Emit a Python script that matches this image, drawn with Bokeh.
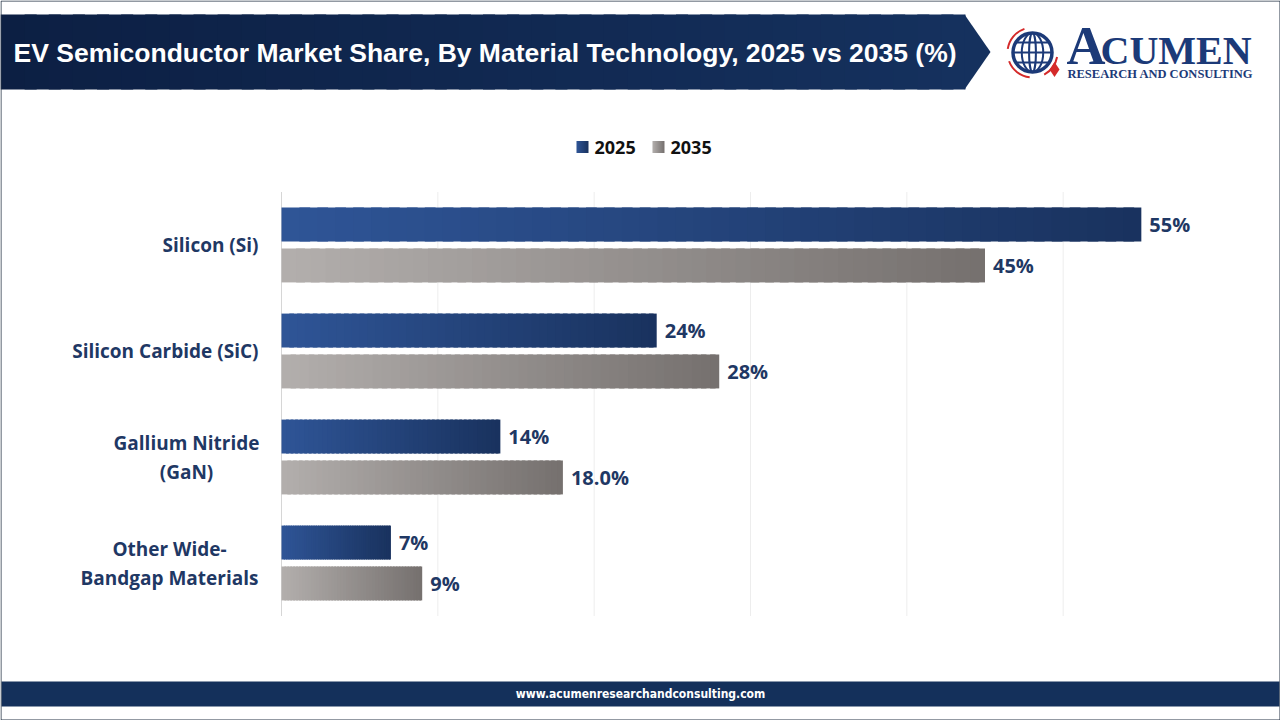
from bokeh.plotting import figure
from bokeh.models import Range1d, ColumnDataSource
from bokeh.core.properties import value
from bokeh.embed import file_html
from bokeh.resources import INLINE

# ---- data ----
categories = ["Silicon (Si)", "Silicon Carbide (SiC)", "Gallium Nitride\n(GaN)", "Other Wide-\nBandgap Materials"]
share_2025 = [55, 24, 14, 7]
share_2035 = [45, 28, 18.0, 9]
labels_2025 = ["55%", "24%", "14%", "7%"]
labels_2035 = ["45%", "28%", "18.0%", "9%"]
series_names = ["2025", "2035"]
grid_ticks = [10, 20, 30, 40, 50]

TITLE = "EV Semiconductor Market Share, By Material Technology, 2025 vs 2035 (%)"
FOOTER = "www.acumenresearchandconsulting.com"

# ---- layout (canvas pixels) ----
W, H = 1280, 720
PLOT_L, PLOT_R = 281, 1219
PLOT_T, BAND = 191.5, 106
X_MAX = 60
BAR_H = 0.32
BAR_OFF = 0.193
NAVY_TEXT = "#1f3864"

GRAD = {
    "2025": ("#2f5597", "#19325e"),
    "2035": ("#b3afad", "#75706e"),
}


def hex_to_rgb(h):
    h = h.lstrip("#")
    return tuple(int(h[i:i + 2], 16) for i in (0, 2, 4))


def lerp(c1, c2, t):
    a, b = hex_to_rgb(c1), hex_to_rgb(c2)
    return "#%02x%02x%02x" % tuple(round(a[i] + (b[i] - a[i]) * t) for i in range(3))


px_per_pct = (PLOT_R - PLOT_L) / X_MAX

p = figure(width=W, height=H, x_range=Range1d(0, W), y_range=Range1d(H, 0),
           output_backend="svg", toolbar_location=None, min_border=0,
           x_axis_location=None, y_axis_location=None)
p.grid.visible = False
p.outline_line_color = None
p.background_fill_color = "white"
p.border_fill_color = "white"

# chart scales: percent along x, category band index along y
p.extra_x_ranges = {"pct": Range1d(-PLOT_L / px_per_pct, (W - PLOT_L) / px_per_pct)}
p.extra_y_ranges = {"cat": Range1d((H - PLOT_T) / BAND, -PLOT_T / BAND)}

# ---- header banner ----
N_STRIPES = 40
BANNER_END, TIP = 965, 990
band_src = dict(left=[], right=[], color=[])
for k in range(N_STRIPES):
    band_src["left"].append(BANNER_END * k / N_STRIPES)
    band_src["right"].append(BANNER_END * min(k + 1.5, N_STRIPES) / N_STRIPES)
    band_src["color"].append(lerp("#0c1f43", "#15315e", (k + 0.5) / N_STRIPES))
p.quad(left="left", right="right", top=14, bottom=89, fill_color="color",
       line_color=None, source=ColumnDataSource(band_src))
p.patch([BANNER_END - 1, TIP, BANNER_END - 1], [14, 51.5, 89], fill_color="#15315e", line_color=None)
p.text(x=[13], y=[52], text=[TITLE], text_color="white", text_font=value("Liberation Sans"),
       text_font_style="bold", text_font_size="26.5px", text_baseline="middle", text_align="left")

# ---- logo ----
LOGO_NAVY = "#1c3a78"
LOGO_RED = "#d42a2a"
gx, gy, gr = 1032, 52, 19.5
p.arc(x=[gx] * 3, y=[gy] * 3, radius=[25, 25, 25],
      start_angle=[1.9, 3.5, 5.2], end_angle=[3.0, 4.6, 6.1],
      line_color=LOGO_RED, line_width=2)
p.ellipse(x=[gx], y=[gy], width=[2 * gr], height=[2 * gr], fill_color="white",
          line_color=LOGO_NAVY, line_width=3.5)
p.ellipse(x=[gx, gx], y=[gy, gy], width=[2 * gr * 0.55, 2 * gr * 0.15 + 1], height=[2 * gr, 2 * gr],
          fill_color=None, line_color=LOGO_NAVY, line_width=2)
p.segment(x0=[gx - gr + 3, gx - gr + 1, gx - gr + 3], x1=[gx + gr - 3, gx + gr - 1, gx + gr - 3],
          y0=[gy - 10, gy, gy + 10], y1=[gy - 10, gy, gy + 10], line_color=LOGO_NAVY, line_width=2)
p.scatter(x=[1054], y=[69], marker="diamond", size=15, fill_color=LOGO_RED, line_color=None)
p.text(x=[1066], y=[45], text=["A"], text_color=LOGO_NAVY, text_font=value("Liberation Serif"),
       text_font_style="bold", text_font_size="54px", text_baseline="middle")
p.text(x=[1100], y=[49.5], text=["CUMEN"], text_color=LOGO_NAVY, text_font=value("Liberation Serif"),
       text_font_style="bold", text_font_size="40px", text_baseline="middle")
p.text(x=[1067], y=[73], text=["RESEARCH AND CONSULTING"], text_color=LOGO_NAVY,
       text_font=value("Liberation Serif"), text_font_style="bold", text_font_size="12.5px",
       text_baseline="middle")

# ---- legend ----
LEG_Y, LEG_SQ = 146.5, 12
leg_x = [576, 652]
for name, x0 in zip(series_names, leg_x):
    c1, c2 = GRAD[name]
    steps = 6
    for k in range(steps):
        p.quad(left=[x0 + LEG_SQ * k / steps], right=[x0 + LEG_SQ * min(k + 1.5, steps) / steps],
               top=[LEG_Y - LEG_SQ / 2], bottom=[LEG_Y + LEG_SQ / 2],
               fill_color=lerp(c1, c2, (k + 0.5) / steps), line_color=None)
    p.text(x=[x0 + LEG_SQ + 6], y=[LEG_Y], text=[name], text_color="#111111",
           text_font=value("Open Sans"), text_font_style="bold", text_font_size="18px",
           text_baseline="middle", text_align="left")

# ---- gridlines and axis line ----
n_cat = len(categories)
p.segment(x0=grid_ticks, x1=grid_ticks, y0=[0] * len(grid_ticks), y1=[n_cat] * len(grid_ticks),
          line_color="#ededed", line_width=1, x_range_name="pct", y_range_name="cat")
p.segment(x0=[0], x1=[0], y0=[0], y1=[n_cat], line_color="#d6d6d6", line_width=1,
          x_range_name="pct", y_range_name="cat")

# ---- gradient bars ----
N_SEG = 48
bars = dict(y=[], left=[], right=[], color=[])
for name, vals, off in (("2025", share_2025, -BAR_OFF), ("2035", share_2035, BAR_OFF)):
    c1, c2 = GRAD[name]
    for i, v in enumerate(vals):
        for k in range(N_SEG):
            bars["y"].append(i + 0.5 + off)
            bars["left"].append(v * k / N_SEG)
            bars["right"].append(v * min(k + 1.6, N_SEG) / N_SEG)
            bars["color"].append(lerp(c1, c2, (k + 0.5) / N_SEG))
p.hbar(y="y", left="left", right="right", height=BAR_H, fill_color="color", line_color=None,
       source=ColumnDataSource(bars), x_range_name="pct", y_range_name="cat")

# ---- value labels ----
lab = dict(x=[], y=[], text=[])
for vals, texts, off in ((share_2025, labels_2025, -BAR_OFF), (share_2035, labels_2035, BAR_OFF)):
    for i, (v, t) in enumerate(zip(vals, texts)):
        lab["x"].append(v + 8 / px_per_pct)
        lab["y"].append(i + 0.5 + off)
        lab["text"].append(t)
p.text(x="x", y="y", text="text", source=ColumnDataSource(lab), text_color=NAVY_TEXT,
       text_font=value("Open Sans"), text_font_style="bold", text_font_size="20px",
       text_baseline="middle", text_align="left", x_range_name="pct", y_range_name="cat")

# ---- category labels ----
LABEL_RIGHT = -23 / px_per_pct
LINE_GAP = 29 / BAND
BLOCK_W = {2: 144, 3: 178}
for i, cat in enumerate(categories):
    lines = cat.split("\n")
    if len(lines) == 1:
        xs, align = [LABEL_RIGHT], "right"
    else:
        xs, align = [LABEL_RIGHT - BLOCK_W[i] / 2 / px_per_pct] * len(lines), "center"
    ys = [i + 0.5 + (j - (len(lines) - 1) / 2) * LINE_GAP for j in range(len(lines))]
    p.text(x=xs, y=ys, text=lines, text_color=NAVY_TEXT, text_font=value("Open Sans"),
           text_font_style="bold", text_font_size="19px", text_baseline="middle",
           text_align=align, x_range_name="pct", y_range_name="cat")

# ---- footer ----
p.quad(left=[1], right=[W - 1], top=[681], bottom=[706], fill_color="#14305b", line_color=None)
p.text(x=[W / 2], y=[693.5], text=[FOOTER], text_color="white",
       text_font=value("DejaVu Sans Condensed"), text_font_style="bold", text_font_size="12px",
       text_baseline="middle", text_align="center")

# ---- frame border ----
p.quad(left=[0.5], right=[W - 0.5], top=[0.5], bottom=[H - 0.5], fill_color=None,
       line_color="#263446", line_width=1)

open("out.html", "w").write(file_html(p, INLINE))
